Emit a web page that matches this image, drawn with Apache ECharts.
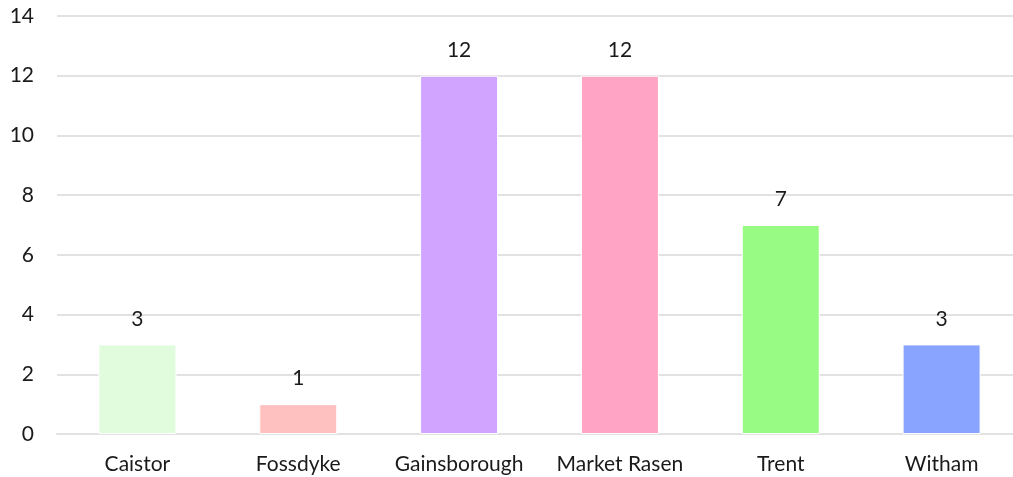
<!DOCTYPE html>
<html>
<head>
<meta charset="utf-8">
<script src="https://cdn.jsdelivr.net/npm/echarts@6/dist/echarts.min.js"></script>
<style>
  html, body { margin: 0; padding: 0; background: #fff; }
  #chart { width: 1013px; height: 477px; }
</style>
</head>
<body>
<div id="chart"></div>
<script>
// data
const categories = ["Caistor", "Fossdyke", "Gainsborough", "Market Rasen", "Trent", "Witham"];
const counts = [3, 1, 12, 12, 7, 3];
const barColors = ["#e0fcdc", "#ffc0c0", "#d0a4ff", "#ffa4c4", "#98fc84", "#88a4ff"];

const FONT = "Lato, 'Noto Sans', sans-serif";
const TEXT = "#1a1a1a";
const GRID_LINE = "#e2e2e2";

const chart = echarts.init(document.getElementById("chart"), null, { renderer: "canvas" });

chart.setOption({
  animation: false,
  backgroundColor: "#fff",
  // plot runs slightly past the right edge in the reference
  grid: { left: 57, width: 965, top: 16, bottom: 43, containLabel: false, outerBoundsMode: "none" },
  xAxis: {
    type: "category",
    data: categories,
    axisTick: { show: false },
    axisLine: { lineStyle: { color: GRID_LINE, width: 2 } },
    axisLabel: { color: TEXT, fontFamily: FONT, fontSize: 21, margin: 20, interval: 0, hideOverlap: false },
  },
  yAxis: {
    type: "value",
    min: 0,
    max: 14,
    interval: 2,
    axisLine: { show: false },
    axisTick: { show: false },
    axisLabel: { color: TEXT, fontFamily: FONT, fontSize: 21, margin: 23 },
    splitLine: { lineStyle: { color: GRID_LINE, width: 2 } },
  },
  series: [{
    type: "bar",
    barWidth: 78,
    data: counts.map((v, i) => ({
      value: v,
      itemStyle: { color: barColors[i], borderColor: "#fff", borderWidth: 1 },
    })),
    label: {
      show: true,
      position: "top",
      distance: 15,
      color: TEXT,
      fontFamily: FONT,
      fontSize: 21,
    },
  }],
});
</script>
</body>
</html>
